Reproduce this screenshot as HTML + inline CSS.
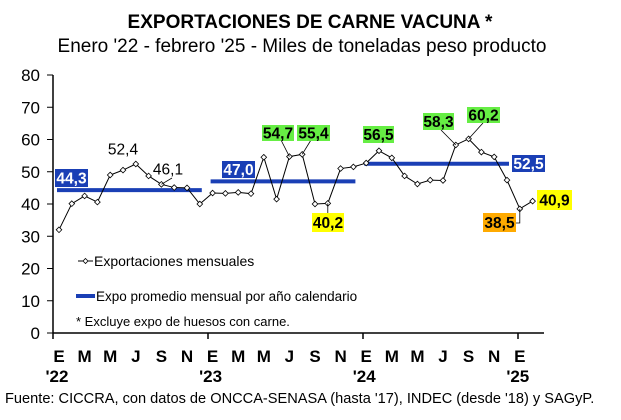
<!DOCTYPE html>
<html><head><meta charset="utf-8"><style>
body{margin:0;background:#fff;font-family:"Liberation Sans",Arial,sans-serif}
svg{display:block}
</style></head><body>
<svg width="621" height="420" viewBox="0 0 621 420" font-family="Liberation Sans, Arial, sans-serif">
<text x="310" y="28" text-anchor="middle" font-size="19" font-weight="bold">EXPORTACIONES DE CARNE VACUNA *</text>
<text x="302" y="52" text-anchor="middle" font-size="19">Enero '22 - febrero '25 - Miles de toneladas peso producto</text>
<g id="axes"></g>
<g id="avg"></g>
<g id="series"></g>
<g id="labels"></g>
<g>
<line x1="78" y1="261" x2="93" y2="261" stroke="#000" stroke-width="1"/>
<path d="M85.5 258.5 L88 261 L85.5 263.5 L83 261 Z" fill="#fff" stroke="#000" stroke-width="0.8"/>
<text x="94" y="266" font-size="14">Exportaciones mensuales</text>
<line x1="76" y1="296" x2="95" y2="296" stroke="#1a3fb5" stroke-width="4"/>
<text x="96" y="301" font-size="13.5">Expo promedio mensual por año calendario</text>
<text x="76" y="326" font-size="13">* Excluye expo de huesos con carne.</text>
</g>
<text x="5" y="403" font-size="14.6">Fuente: CICCRA, con datos de ONCCA-SENASA (hasta '17), INDEC (desde '18) y SAGyP.</text>
</svg>
<script>
const values=[32,40.1,42.5,40.6,49,50.5,52.4,48.7,46.1,45.1,45,40,
43.4,43.3,43.6,43.2,54.5,41.5,54.7,55.4,40,40.2,51,51.5,
52.7,56.5,54.3,48.7,46.2,47.4,47.3,58.3,60.2,56.1,54.6,47.4,38.5,40.9];
const avgValues=[44.3,47.0,52.5];
const avgStart=[0,12,24];
const avgEnd=[11,23,35];
const yTicks=[0,10,20,30,40,50,60,70,80];
const monthLabels=["E","M","M","J","S","N"];
const yearLabels=["'22","'23","'24","'25"];
const NS="http://www.w3.org/2000/svg";
const X=i=>59+12.8*i, Y=v=>333-v*3.225;
function mk(tag,attrs,parent,txt){const e=document.createElementNS(NS,tag);for(const k in attrs)e.setAttribute(k,attrs[k]);if(txt!==undefined)e.textContent=txt;parent.appendChild(e);return e;}
const ax=document.getElementById('axes');
let e=mk('line',{x1:53,y1:Y(0),x2:544,y2:Y(0),stroke:'#000','stroke-width':1.5},ax);


e=mk('line',{x1:53,y1:Y(80),x2:53,y2:Y(0),stroke:'#000','stroke-width':1.5},ax);


yTicks.forEach(t=>{mk('line',{x1:47,y1:Y(t),x2:53,y2:Y(t),stroke:'#000'},ax);
e=mk('text',{x:40,y:Y(t)+6,'text-anchor':'end','font-size':17},ax,String(t));

});
for(let i=0;i<=36;i+=2){
 const lx=X(i);
 e=mk('text',{x:lx,y:362,'text-anchor':'middle','font-size':17,'font-weight':'bold'},ax,monthLabels[(i/2)%6]);
 
 
}
for(let k=0;k<4;k++){const tx=53+155*k;mk('line',{x1:tx,y1:Y(0),x2:tx,y2:Y(0)+6,stroke:'#000','stroke-width':1.5},ax);
 e=mk('text',{x:X(12*k)-2,y:382,'text-anchor':'middle','font-size':17,'font-weight':'bold'},ax,yearLabels[k]);
 
 }
const ag=document.getElementById('avg');
avgValues.forEach((v,k)=>{e=mk('line',{x1:X(avgStart[k])-2,y1:Y(v),x2:X(avgEnd[k])+2,y2:Y(v),stroke:'#1a3fb5','stroke-width':4},ag);

});
const sg=document.getElementById('series');
e=mk('polyline',{points:values.map((v,i)=>X(i)+','+Y(v)).join(' '),fill:'none',stroke:'#000','stroke-width':1},sg);


values.forEach((v,i)=>{const x=X(i),y=Y(v);e=mk('path',{d:`M${x} ${y-2.8}L${x+2.8} ${y}L${x} ${y+2.8}L${x-2.8} ${y}Z`,fill:'#fff',stroke:'#000','stroke-width':0.8},sg);

});
const lg=document.getElementById('labels');
function fmt(v){return v.toFixed(1).replace('.',',');}
function box(txt,x,y,w,h,bg,fg){const g=mk('g',{},lg);
 
 
 if(bg)mk('rect',{x:x,y:y,width:w,height:h,fill:bg},g);
 mk('text',{x:x+w/2,y:y+h/2+5.5,'text-anchor':'middle','font-size':15.5,'font-weight':bg?'bold':'normal',fill:fg},g,txt);}
function lead(x1,y1,x2,y2){mk('polyline',{points:`${x1},${y1} ${x2},${y2}`,fill:'none',stroke:'#000','stroke-width':0.8},lg);}
box(fmt(avgValues[0]),55,169,33,18,'#1a3fb5','#fff');
box(fmt(avgValues[1]),222,161,33,17,'#1a3fb5','#fff');
box(fmt(avgValues[2]),512,155,33,17,'#1a3fb5','#fff');
lead(X(8),Y(values[8]),172,178);
box(fmt(values[6]),106,140,34,18,null,'#000');
box(fmt(values[8]),151,160,34,18,null,'#000');
lead(X(18),Y(values[18]),281,140);lead(X(19),Y(values[19]),311,140);
box(fmt(values[18]),262,125,32,16,'#66ee44','#000');
box(fmt(values[19]),297,125,33,16,'#66ee44','#000');
lead(X(21),Y(values[21]),X(21),213);
box(fmt(values[21]),312,213,32,19,'#ffff00','#000');
box(fmt(values[25]),363,126,31,17,'#66ee44','#000');
lead(X(31),Y(values[31]),441,130);lead(X(32),Y(values[32]),483,123);
box(fmt(values[31]),423,113,31,17,'#66ee44','#000');
box(fmt(values[32]),467,107,33,16,'#66ee44','#000');
mk('polyline',{points:`${X(36)},${Y(values[36])} ${X(36)},223 516,223`,fill:'none',stroke:'#000','stroke-width':0.8},lg);
box(fmt(values[36]),483,213,33,19,'#ffaa00','#000');
box(fmt(values[37]),537,190,35,20,'#ffff00','#000');
</script>
</body></html>
